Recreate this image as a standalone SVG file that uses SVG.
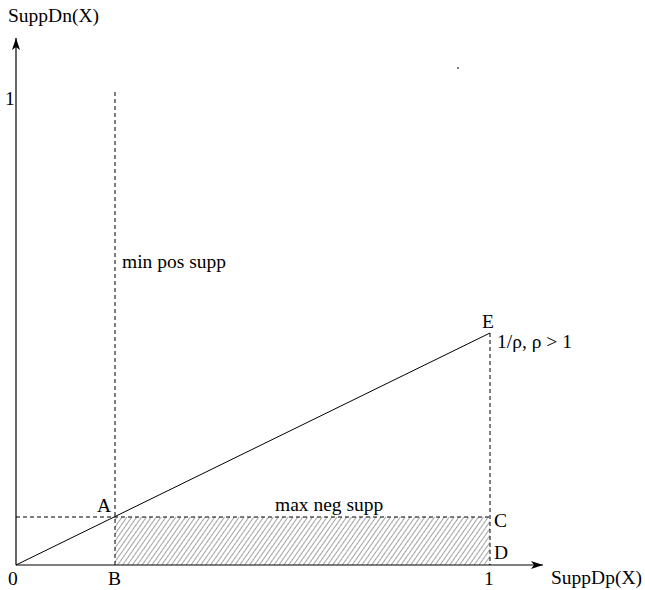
<svg xmlns="http://www.w3.org/2000/svg" width="645" height="590" viewBox="0 0 645 590">
<style>
text{font-family:"Liberation Serif","Times New Roman",serif;font-size:19.5px;fill:#000}
.ax{stroke:#000;stroke-width:1.2;fill:none}
.dash{stroke:#000;stroke-width:1;fill:none;stroke-dasharray:4,3}
.solid{stroke:#000;stroke-width:1;fill:none}
</style>
<defs>
<marker id="arr" viewBox="0 0 12 8" refX="12" refY="4" markerWidth="12" markerHeight="8" markerUnits="userSpaceOnUse" orient="auto">
<path d="M0,0 L12,4 L0,8 L3,4 Z" fill="#000"/>
</marker>
<pattern id="hatch" width="4" height="4" patternUnits="userSpaceOnUse" patternTransform="rotate(35)">
<line x1="0" y1="0" x2="0" y2="4" stroke="#333" stroke-width="0.9"/>
</pattern>
</defs>
<g id="hatched-region">
<rect x="115" y="517" width="375" height="48" fill="url(#hatch)"/>
</g>
<g id="connectors">
<line class="ax" x1="16" y1="565" x2="16" y2="38" marker-end="url(#arr)"/>
<line class="ax" x1="16" y1="565" x2="543" y2="565" marker-end="url(#arr)"/>
<line class="dash" x1="115" y1="92" x2="115" y2="565"/>
<line class="dash" x1="16" y1="517" x2="490" y2="517"/>
<line class="dash" x1="490" y1="333" x2="490" y2="565"/>
<line class="solid" x1="16" y1="565" x2="490" y2="333"/>
<line class="solid" x1="458" y1="67" x2="458" y2="69" stroke="#888"/>
</g>
<g id="labels">
<text x="8" y="22">SuppDn(X)</text>
<text x="5" y="105">1</text>
<text x="122" y="268">min pos supp</text>
<text x="482" y="328">E</text>
<text x="497" y="348">1/ρ, ρ &gt; 1</text>
<text x="97" y="512">A</text>
<text x="275" y="511">max neg supp</text>
<text x="494" y="527">C</text>
<text x="494" y="559">D</text>
<text x="8" y="585">0</text>
<text x="108" y="585">B</text>
<text x="484" y="585">1</text>
<text x="551" y="584">SuppDp(X)</text>
</g>
</svg>
